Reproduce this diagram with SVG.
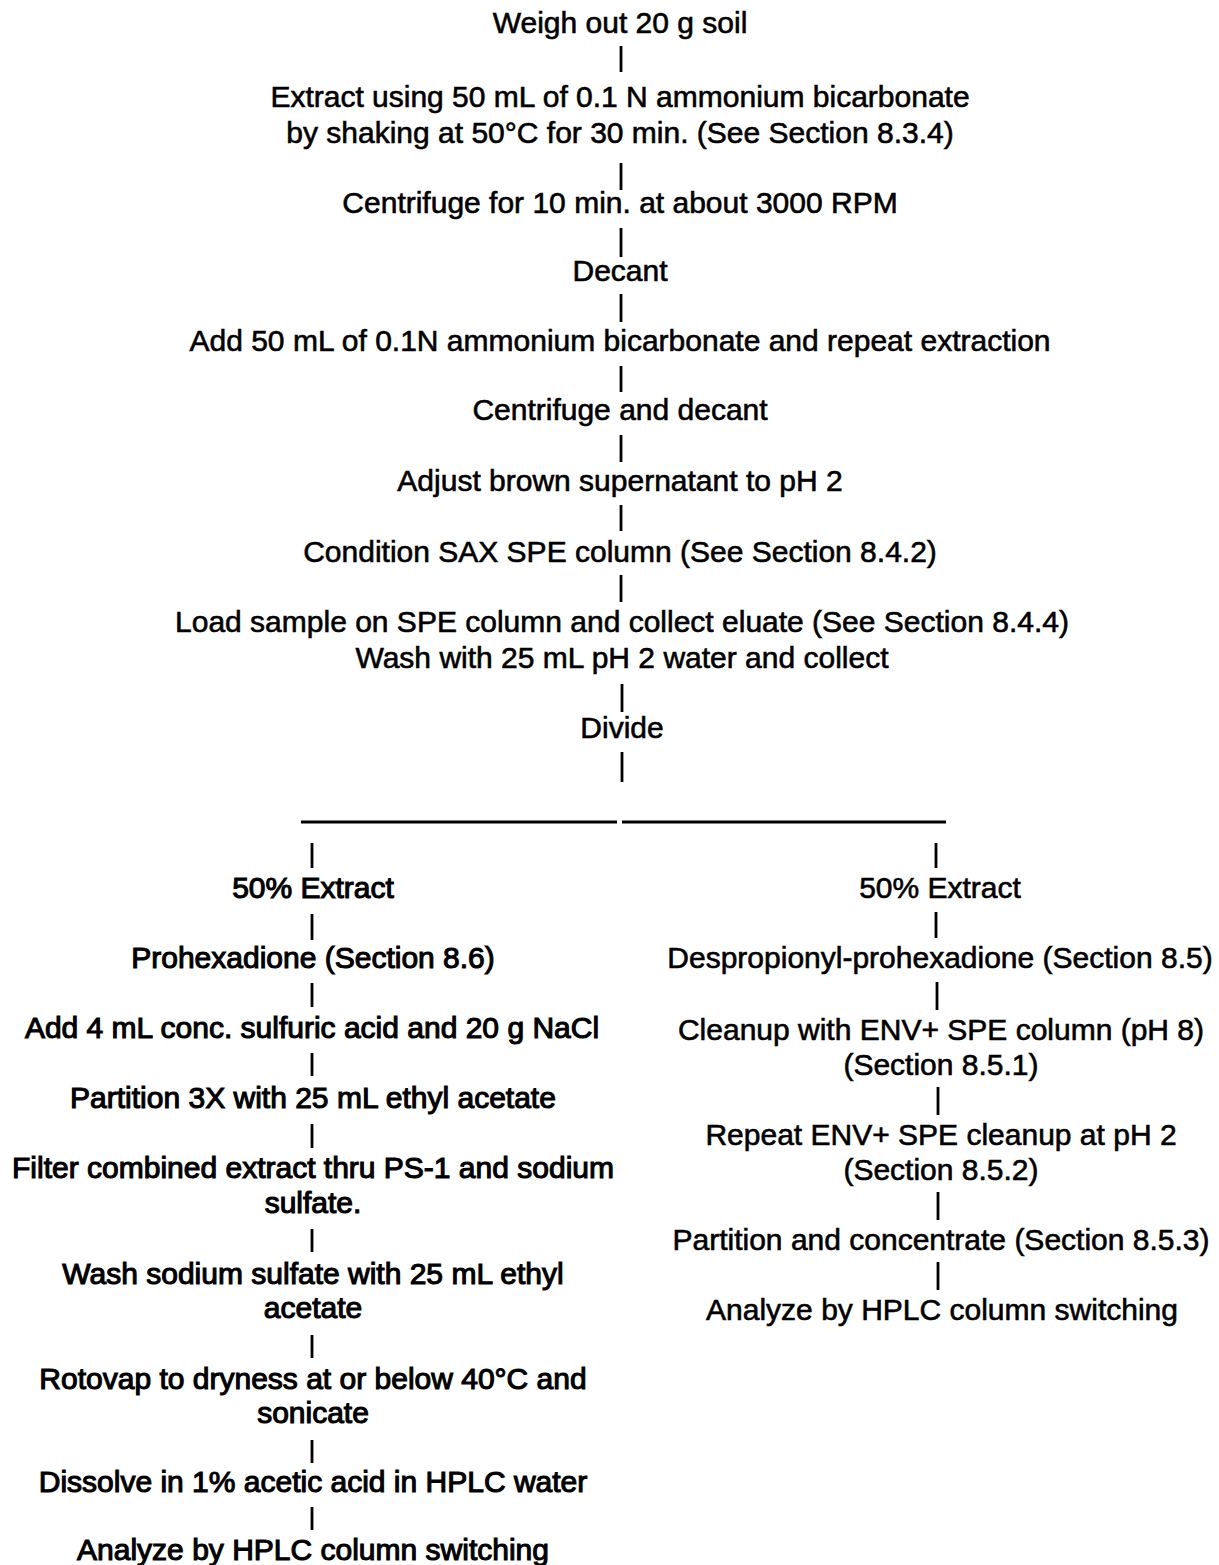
<svg xmlns="http://www.w3.org/2000/svg" width="1219" height="1565" viewBox="0 0 1219 1565">
<style>
text { font-family: "Liberation Sans", Arial, sans-serif; font-size: 30px; fill: #000; stroke: #000; stroke-width: 0.6; text-anchor: middle; }
.heavy text { stroke-width: 1.1; }
#connectors line { stroke: #000; stroke-width: 2.8; stroke-linecap: butt; }
</style>
<rect width="1219" height="1565" fill="#fff"/>
<g id="connectors">
  <line x1="621" y1="46" x2="621" y2="72"/>
  <line x1="621" y1="163" x2="621" y2="190"/>
  <line x1="621" y1="228" x2="621" y2="257"/>
  <line x1="621" y1="294" x2="621" y2="322"/>
  <line x1="621" y1="366" x2="621" y2="392"/>
  <line x1="621" y1="435" x2="621" y2="462"/>
  <line x1="621" y1="505" x2="621" y2="531"/>
  <line x1="621" y1="575" x2="621" y2="602"/>
  <line x1="622" y1="684" x2="622" y2="712"/>
  <line x1="622" y1="752" x2="622" y2="782"/>
  <line x1="301" y1="822" x2="617" y2="822"/>
  <line x1="622" y1="822" x2="946" y2="822"/>
  <line x1="312" y1="843" x2="312" y2="868"/>
  <line x1="312" y1="914" x2="312" y2="940"/>
  <line x1="312" y1="983" x2="312" y2="1007"/>
  <line x1="312" y1="1053" x2="312" y2="1076"/>
  <line x1="312" y1="1124" x2="312" y2="1148"/>
  <line x1="312" y1="1229" x2="312" y2="1252"/>
  <line x1="312" y1="1335" x2="312" y2="1358"/>
  <line x1="312" y1="1440" x2="312" y2="1463"/>
  <line x1="312" y1="1507" x2="312" y2="1530"/>
  <line x1="936" y1="843" x2="936" y2="868"/>
  <line x1="936" y1="912" x2="936" y2="938"/>
  <line x1="937" y1="982" x2="937" y2="1010"/>
  <line x1="938" y1="1087" x2="938" y2="1115"/>
  <line x1="938" y1="1192" x2="938" y2="1220"/>
  <line x1="938" y1="1262" x2="938" y2="1290"/>
</g>
<g id="n-weigh"><text x="620" y="33">Weigh out 20 g soil</text></g>
<g id="n-extract"><text x="620" y="107">Extract using 50 mL of 0.1 N ammonium bicarbonate</text><text x="620" y="143">by shaking at 50°C for 30 min. (See Section 8.3.4)</text></g>
<g id="n-centrifuge1"><text x="620" y="213">Centrifuge for 10 min. at about 3000 RPM</text></g>
<g id="n-decant"><text x="620" y="281">Decant</text></g>
<g id="n-add"><text x="620" y="351">Add 50 mL of 0.1N ammonium bicarbonate and repeat extraction</text></g>
<g id="n-centrifuge2"><text x="620" y="420">Centrifuge and decant</text></g>
<g id="n-adjust"><text x="620" y="491">Adjust brown supernatant to pH 2</text></g>
<g id="n-condition"><text x="620" y="562">Condition SAX SPE column (See Section 8.4.2)</text></g>
<g id="n-load"><text x="622" y="632">Load sample on SPE column and collect eluate (See Section 8.4.4)</text><text x="622" y="668">Wash with 25 mL pH 2 water and collect</text></g>
<g id="n-divide"><text x="622" y="738">Divide</text></g>
<g id="l-extract" class="heavy"><text x="313" y="898">50% Extract</text></g>
<g id="l-prohex" class="heavy"><text x="313" y="968">Prohexadione (Section 8.6)</text></g>
<g id="l-acid" class="heavy"><text x="312" y="1038">Add 4 mL conc. sulfuric acid and 20 g NaCl</text></g>
<g id="l-partition" class="heavy"><text x="313" y="1108">Partition 3X with 25 mL ethyl acetate</text></g>
<g id="l-filter" class="heavy"><text x="313" y="1178">Filter combined extract thru PS-1 and sodium</text><text x="313" y="1213">sulfate.</text></g>
<g id="l-wash" class="heavy"><text x="313" y="1284">Wash sodium sulfate with 25 mL ethyl</text><text x="313" y="1318">acetate</text></g>
<g id="l-rotovap" class="heavy"><text x="313" y="1389">Rotovap to dryness at or below 40°C and</text><text x="313" y="1423">sonicate</text></g>
<g id="l-dissolve" class="heavy"><text x="313" y="1492">Dissolve in 1% acetic acid in HPLC water</text></g>
<g id="l-analyze" class="heavy"><text x="313" y="1560">Analyze by HPLC column switching</text></g>
<g id="r-extract"><text x="940" y="898">50% Extract</text></g>
<g id="r-desprop"><text x="940" y="968">Despropionyl-prohexadione (Section 8.5)</text></g>
<g id="r-cleanup"><text x="941" y="1040">Cleanup with ENV+ SPE column (pH 8)</text><text x="941" y="1075">(Section 8.5.1)</text></g>
<g id="r-repeat"><text x="941" y="1145">Repeat ENV+ SPE cleanup at pH 2</text><text x="941" y="1180">(Section 8.5.2)</text></g>
<g id="r-partition"><text x="941" y="1250">Partition and concentrate (Section 8.5.3)</text></g>
<g id="r-analyze"><text x="942" y="1320">Analyze by HPLC column switching</text></g>
</svg>
